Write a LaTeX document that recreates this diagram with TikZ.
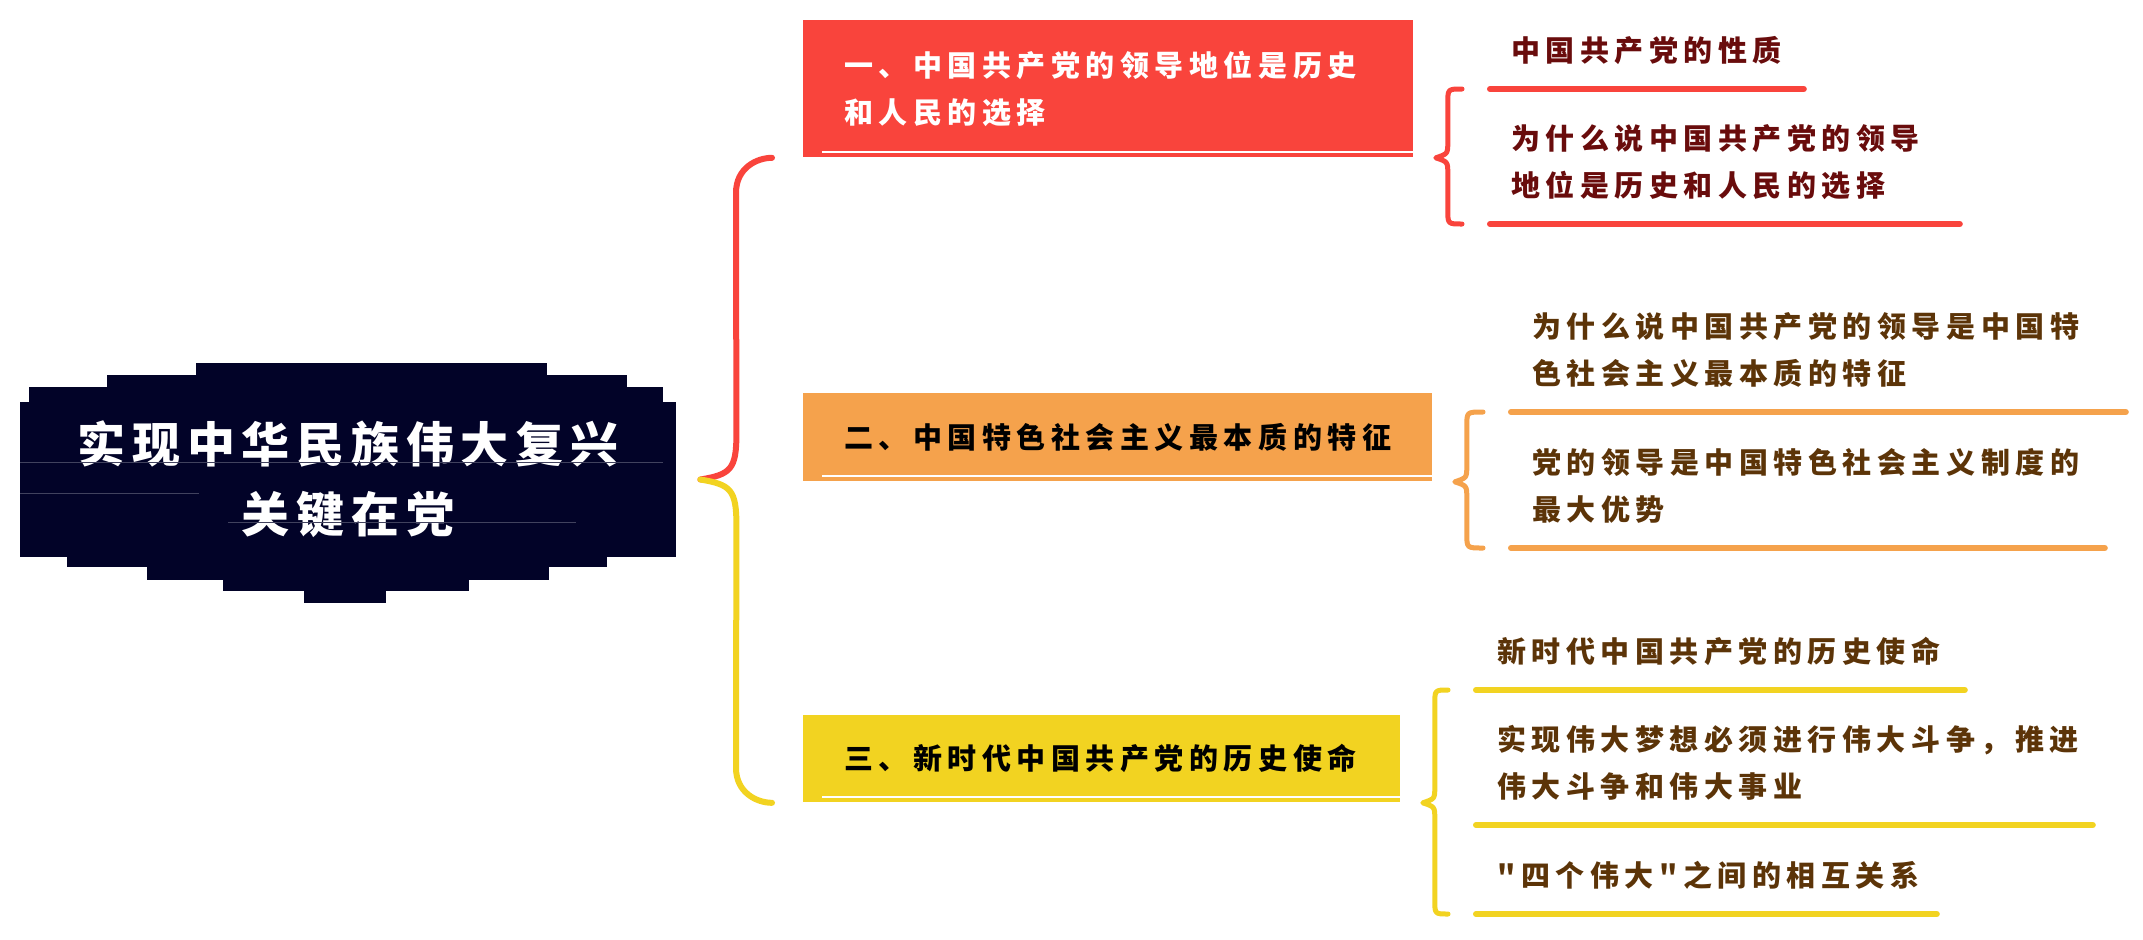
\documentclass[tikz,border=0pt]{standalone}
\usepackage{fontspec}
\usepackage{tikz}
\newfontfamily\mmfont{Noto Sans CJK SC}[LetterSpace=19]
\newfontfamily\mmtitlefont{Noto Sans CJK SC}[LetterSpace=14]
\definecolor{mmnavy}{RGB}{2,3,40}
\definecolor{mmred}{RGB}{249,68,60}
\definecolor{mmorange}{RGB}{245,162,76}
\definecolor{mmyellow}{RGB}{242,211,33}
\definecolor{mmmaroon}{RGB}{105,12,12}
\definecolor{mmbrown}{RGB}{92,52,8}
\usetikzlibrary{calc}
\tikzset{
    mmroot/.style={fill=mmnavy, text=white, minimum width=328pt, minimum height=77.5pt, inner sep=0pt, align=center, font=\mmtitlefont\bfseries\fontsize{24}{35}\selectfont},
    mmtopic/.style={anchor=north west, inner xsep=20.5pt, inner ysep=0pt, align=left, font=\mmfont\bfseries\fontsize{14.5}{23.5}\selectfont},
    mmleaf/.style={anchor=south west, inner xsep=10.5pt, inner ysep=12pt, align=left, font=\mmfont\bfseries\fontsize{14.5}{23.5}\selectfont},
    mmlink/.style={line width=3pt, line cap=round},
    mmunder/.style={line width=3pt, line cap=round},
    mmcurly/.style={line width=2.5pt, line cap=round, line join=round},
    mmsheen/.style={white, line width=1pt},
    mmstreak/.style={mmnavy!75!white, line width=0.4pt}
}
\newcommand\mmbrace[4]{%
  \draw[mmcurly,#1] let \p1=([xshift=-14pt]#2.south west), \p2=([xshift=11pt]#3.south east), \p3=([xshift=-14pt]#4.south west) in
    (\p1) .. controls (\x2+6pt,\y1) .. (\x2+6pt,\y1-7pt) -- (\x2+6pt,\y2+8pt)
    .. controls (\x2+6pt,\y2+2pt) .. (\x2,\y2)
    .. controls (\x2+6pt,\y2-2pt) .. (\x2+6pt,\y2-8pt) -- (\x2+6pt,\y3+7pt)
    .. controls (\x2+6pt,\y3) .. (\p3);
}
\begin{document}
\begin{tikzpicture}[x=0.5pt, y=-0.5pt]
  \useasboundingbox[fill=white] (0,0) rectangle (2143,939);

  \foreach \xa/\ya/\xb/\yb in {196/363/547/377, 107/375/627/389, 29/387/663/404, 67/555/607/567, 147/565/549/580, 223/578/469/591, 304/589/386/603} {
      \fill[mmnavy] (\xa,\ya) rectangle (\xb,\yb);
  }
  \node[mmroot] (root) at (348,479.5) {实现中华民族伟大复兴\\关键在党};
  \draw[mmstreak] (20,462) -- (663,462);
  \draw[mmstreak] (20,493) -- (199,493);
  \draw[mmstreak] (228,522) -- (576,522);

  \node[mmtopic, fill=mmred, text=white, text width=264pt, minimum height=68.5pt] (b1) at (803,20) {一、中国共产党的领导地位是历史\\和人民的选择};
  \node[mmtopic, fill=mmorange, text=black, text width=273.5pt, minimum height=44pt] (b2) at (803,393) {二、中国特色社会主义最本质的特征};
  \node[mmtopic, fill=mmyellow, text=black, text width=257.5pt, minimum height=43.5pt] (b3) at (803,715) {三、新时代中国共产党的历史使命};
  \foreach \b in {b1,b2,b3} {
      \draw[mmsheen] ([xshift=9.5pt,yshift=3pt]\b.south west) -- ([yshift=3pt]\b.south east);
  }

  \coordinate (jn) at ([xshift=12pt]root.east);
  \coordinate (e1) at ([xshift=-15.5pt]b1.south west);
  \coordinate (e3) at ([xshift=-15.5pt]b3.south west);
  \draw[mmlink, mmred] (jn) .. controls +(30,-5) and +(0,35) .. ($(jn)+(36,-45)$) -- ($(e1)+(-36,35)$) .. controls +(0,-25) and +(-15,0) .. (e1);
  \draw[mmlink, mmyellow] (jn) .. controls +(30,5) and +(0,-35) .. ($(jn)+(36,45)$) -- ($(e3)+(-36,-35)$) .. controls +(0,25) and +(-15,0) .. (e3);

  \node[mmleaf, text=mmmaroon, text width=135.5pt] (c11) at (1490,89) {中国共产党的性质};
  \node[mmleaf, text=mmmaroon, text width=213.5pt] (c12) at (1490,224) {为什么说中国共产党的领导\\地位是历史和人民的选择};
  \node[mmleaf, text=mmbrown, text width=286pt] (c21) at (1511,412) {为什么说中国共产党的领导是中国特\\色社会主义最本质的特征};
  \node[mmleaf, text=mmbrown, text width=275.5pt] (c22) at (1511,548) {党的领导是中国特色社会主义制度的\\最大优势};
  \node[mmleaf, text=mmbrown, text width=223pt] (c31) at (1476,690) {新时代中国共产党的历史使命};
  \node[mmleaf, text=mmbrown, text width=287pt] (c32) at (1476,825) {实现伟大梦想必须进行伟大斗争，推进\\伟大斗争和伟大事业};
  \node[mmleaf, text=mmbrown, text width=209pt] (c33) at (1476,914) {"四个伟大"之间的相互关系};

  \foreach \c in {c11,c12} {
      \draw[mmunder, mmred] (\c.south west) -- (\c.south east);
  }
  \foreach \c in {c21,c22} {
      \draw[mmunder, mmorange] (\c.south west) -- (\c.south east);
  }
  \foreach \c in {c31,c32,c33} {
      \draw[mmunder, mmyellow] (\c.south west) -- (\c.south east);
  }

  \mmbrace{mmred}{c11}{b1}{c12}
  \mmbrace{mmorange}{c21}{b2}{c22}
  \mmbrace{mmyellow}{c31}{b3}{c33}
\end{tikzpicture}
\end{document}
